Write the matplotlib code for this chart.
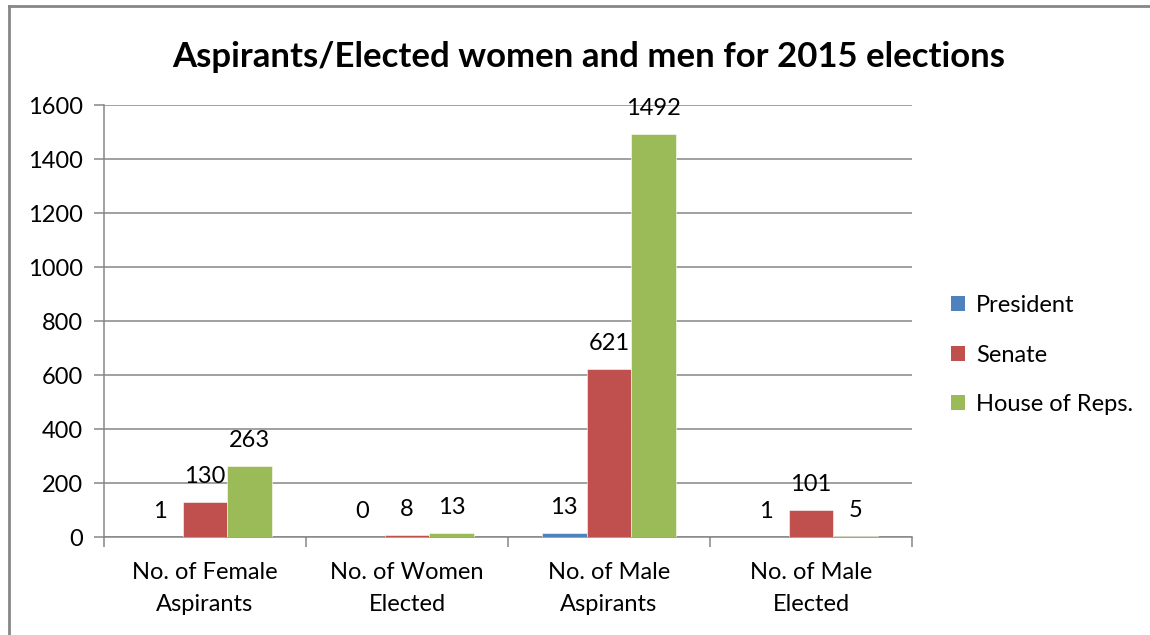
import matplotlib
matplotlib.use("Agg")
import matplotlib.pyplot as plt
import numpy as np
from matplotlib.lines import Line2D
from matplotlib.patches import Patch

categories = ["No. of Female\nAspirants", "No. of Women\nElected", "No. of Male\nAspirants", "No. of Male\nElected"]
president = [1, 0, 13, 1]
senate = [130, 8, 621, 101]
house = [263, 13, 1492, 5]
series_names = ["President", "Senate", "House of Reps."]
colors = ["#4F81BD", "#C0504D", "#9BBB59"]
yticks = [0, 200, 400, 600, 800, 1000, 1200, 1400, 1600]

plt.rcParams['font.family'] = ['Lato', 'DejaVu Sans']
W, H = 1150, 635
FS = 17
fig = plt.figure(figsize=(W / 100, H / 100), dpi=100)
ax = fig.add_axes([104 / W, 98 / H, (912 - 104) / W, (537 - 105) / H])

grid_c = "#868686"
x = np.arange(len(categories))
bw = 1 / 4.5
for i, (vals, c) in enumerate(zip([president, senate, house], colors)):
    pos = x + (i - 1) * bw
    ax.bar(pos, vals, width=bw, color=c, edgecolor="white", linewidth=0.4, zorder=3)
    for px, v in zip(pos, vals):
        ax.annotate(str(v), (px, v), xytext=(0, 19), textcoords="offset pixels",
                    ha="center", va="baseline", fontsize=FS, color="black", zorder=4)

ax.set_xlim(-0.5, 3.5)
ax.set_ylim(0, 1600)
ax.set_yticks(yticks)
ax.set_yticklabels([str(t) for t in yticks], fontsize=FS)
ax.yaxis.grid(True, color=grid_c, linewidth=1.1, zorder=0)
ax.set_axisbelow(True)
ax.set_xticks(np.arange(-0.5, 4, 1))
ax.set_xticklabels([])
ax.set_xticks(x, minor=True)
ax.set_xticklabels(categories, minor=True, fontsize=FS, linespacing=1.65)
ax.tick_params(axis='x', which='minor', length=0, pad=18)
ax.tick_params(axis='x', which='major', length=7, width=1.1, color=grid_c, direction='out')
ax.tick_params(axis='y', length=7, width=1.1, color=grid_c, direction='out', pad=8)
for s in ["top", "right"]:
    ax.spines[s].set_visible(False)
for s in ["left", "bottom"]:
    ax.spines[s].set_color(grid_c)
    ax.spines[s].set_linewidth(1.1)

fig.text(589 / W, 1 - 57 / H, "Aspirants/Elected women and men for 2015 elections",
         ha="center", va="center", fontsize=25, fontweight="bold")

handles = [Patch(facecolor=c, edgecolor="none") for c in colors]
leg = fig.legend(handles, series_names, loc="center left", bbox_to_anchor=(951 / W, 1 - 355 / H),
                 frameon=False, fontsize=FS, handlelength=0.6, handleheight=0.6,
                 handletextpad=0.45, labelspacing=1.2, borderaxespad=0, borderpad=0)

fig.add_artist(Line2D([8.5 / W, 8.5 / W], [0, 1 - 5.5 / H], transform=fig.transFigure, color=grid_c, linewidth=2))
fig.add_artist(Line2D([8.5 / W, 1], [1 - 5.5 / H, 1 - 5.5 / H], transform=fig.transFigure, color=grid_c, linewidth=2))

fig.savefig("out.png", dpi=100)
